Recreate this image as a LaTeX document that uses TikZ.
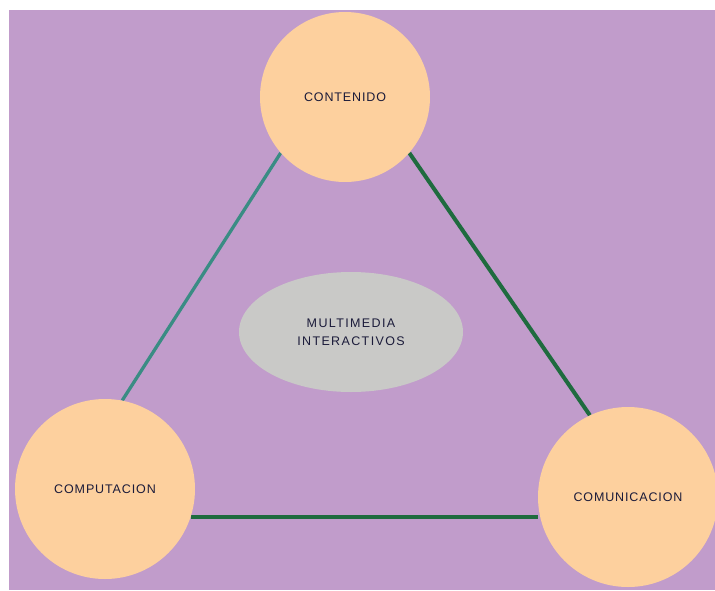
\documentclass[tikz,border=0pt]{standalone}
\usepackage{fontspec}
\setmainfont{Liberation Sans}
\newfontfamily\circlefont[LetterSpace=7]{Liberation Sans}
\newfontfamily\corefont[LetterSpace=11]{Liberation Sans}
\usetikzlibrary{shapes.geometric}
\pgfdeclarelayer{back}
\pgfdeclarelayer{lines}
\pgfsetlayers{back,lines,main}
\definecolor{bgpurple}{HTML}{C19CCB}
\definecolor{peach}{HTML}{FDD09E}
\definecolor{ellgray}{HTML}{C9C9C7}
\definecolor{tealline}{HTML}{3A8C84}
\definecolor{greenline}{HTML}{1F6B3F}
\definecolor{labelink}{HTML}{1B1B3A}
\tikzset{
  topic/.style={circle, fill=peach, draw=none, inner sep=0pt,
    text=labelink, font=\circlefont\fontsize{12.5}{15}\selectfont},
  core/.style={ellipse, fill=ellgray, draw=none, inner sep=0pt,
    text=labelink, align=center, font=\corefont\fontsize{12.5}{18}\selectfont},
  tealedge/.style={draw=tealline, line width=3.3pt},
  greenedge/.style={draw=greenline, line width=4pt}
}
\begin{document}
\begin{tikzpicture}[x=1pt,y=-1pt]
\begin{pgfonlayer}{back}
  \fill[white] (0,0) rectangle (715,590);
  \fill[bgpurple] (9,10) rectangle (715,590);
\end{pgfonlayer}
\useasboundingbox (0,0) rectangle (715,590);
\node[topic, minimum size=170pt] (cont) at (345,97) {CONTENIDO};
\node[topic, minimum size=180pt] (comp) at (105,489) {COMPUTACION};
\node[topic, minimum size=180pt] (comm) at (628,497) {COMUNICACION};
\node[core, minimum width=224pt, minimum height=120pt] (mm) at (351,332) {MULTIMEDIA\\INTERACTIVOS};
\begin{pgfonlayer}{lines}
  \draw[tealedge] (cont.221) -- (comp.79);
  \draw[greenedge] (cont.319) -- (comm.115);
  \coordinate (bl) at (comp.-18);
  \draw[greenedge] (bl) -- (bl -| comm.west);
\end{pgfonlayer}
\end{tikzpicture}
\end{document}
